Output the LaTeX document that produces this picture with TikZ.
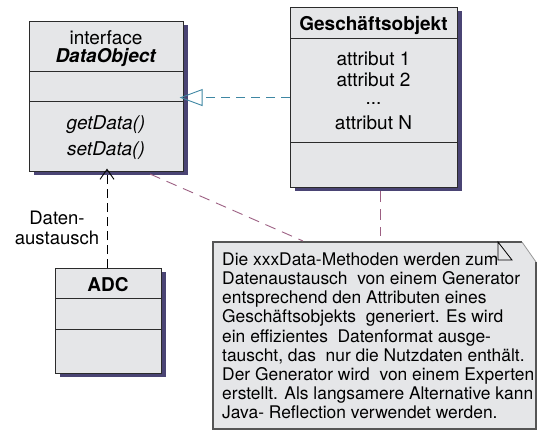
\documentclass[tikz,border=0pt]{standalone}
\usepackage{fontspec}
\setmainfont{TeX Gyre Heros}
\usetikzlibrary{arrows.meta}
\definecolor{boxfill}{HTML}{E5E6E8}
\definecolor{shadecol}{HTML}{4A4474}
\definecolor{boxline}{HTML}{2B2B2B}
\definecolor{noteline}{HTML}{555555}
\definecolor{realcol}{HTML}{3F87A3}
\definecolor{anchorcol}{HTML}{9C5F82}
\tikzset{
  classbox/.style={draw=boxline, line width=1.1pt, fill=boxfill, inner sep=0pt,
    anchor=north west},
  boxshade/.style={fill=shadecol, draw=none},
  divider/.style={draw=boxline, line width=0.9pt},
  boxtext/.style={font=\fontsize{19}{21}\selectfont, anchor=base, inner sep=0pt},
  notetext/.style={font=\fontsize{17.4}{19.2}\selectfont, align=left, anchor=north west, inner sep=0pt},
  realize/.style={draw=realcol, line width=0.9pt, dash pattern=on 9pt off 6pt,
    -{Triangle[open, length=23pt, width=17pt, line width=0.9pt]}},
  depend/.style={draw=black, line width=0.9pt, dash pattern=on 9pt off 5pt,
    -{Straight Barb[length=10pt, width=14pt, line width=0.9pt]}},
  notelink/.style={draw=anchorcol, line width=0.9pt, dash pattern=on 11pt off 7pt}
}
\begin{document}
\begin{tikzpicture}[x=1pt, y=-1pt]
\useasboundingbox (0,0) rectangle (538,432);

% offset shadows, drawn first so that the boxes cover them
\fill[boxshade] (33.5,25) rectangle (188,175);
\fill[boxshade] (294.5,11) rectangle (461.5,191);
\fill[boxshade] (59.5,272) rectangle (165.5,377);

% interface DataObject
\node[classbox, minimum width=154pt, minimum height=150pt] (do) at (29,21) {};
\draw[divider] (29,71) -- (183,71);
\draw[divider] (29,101) -- (183,101);
\node[boxtext] (doStereo) at (106,44) {interface};
\node[boxtext] (doName) at (106,62) {\textbf{\textit{DataObject}}};
\node[boxtext] (doGet) at (106,129.5) {\textit{getData()}};
\node[boxtext] (doSet) at (106,155) {\textit{setData()}};

% class Geschäftsobjekt
\node[classbox, minimum width=167pt, minimum height=180pt] (go) at (290,7) {};
\draw[divider] (290,38) -- (457,38);
\draw[divider] (290,142) -- (457,142);
\node[boxtext] (goName) at (373.5,30.7) {\textbf{Geschäftsobjekt}};
\node[boxtext] (goA1) at (373.5,65) {attribut 1};
\node[boxtext] (goA2) at (373.5,86) {attribut 2};
\node[boxtext] (goDots) at (373.5,104) {...};
\node[boxtext] (goAN) at (373.5,129) {attribut N};

% class ADC
\node[classbox, minimum width=106pt, minimum height=105pt] (adc) at (55,268) {};
\draw[divider] (55,298) -- (161,298);
\draw[divider] (55,329) -- (161,329);
\node[boxtext] (adcName) at (108,291) {\textbf{ADC}};

% label of the dependency
\node[boxtext, font=\fontsize{18.5}{19.5}\selectfont, align=center, anchor=north] (xchg) at (57,211)
  {Daten-\\austausch};

% note with folded corner
\coordinate (noteNW) at (213,242);
\coordinate (noteFold) at (522,242);
\coordinate (noteEdge) at (536,262);
\coordinate (noteSE) at (536,429);
\coordinate (noteSW) at (213,429);
\fill[boxfill] (noteNW) -- (noteFold) -- (noteEdge) -- (noteSE) -- (noteSW) -- cycle;
\draw[noteline, line width=1.1pt] (noteFold) -- (noteNW) -- (noteSW) -- (noteSE) -- (noteEdge);
\draw[noteline!60, line width=0.8pt] (noteFold) -- (noteEdge);
\draw[black, line width=0.8pt] (498,242) -- (498,260) -- (512,260) -- cycle;
\node[notetext] (noteText) at (222,252.5) {%
Die xxxData-Methoden werden zum\\
Datenaustausch\ \ von einem Generator\\
entsprechend den Attributen eines\\
Geschäftsobjekts\ \ generiert. Es wird\\
ein effizientes\ \ Datenformat ausge-\\
tauscht, das\ \ nur die Nutzdaten enthält.\\
Der Generator wird\ \ von einem Experten\\
erstellt. Als langsamere Alternative kann\\
Java- Reflection verwendet werden.};

% connectors
\draw[realize, shorten >=-4.5pt] (go.west) -- (go.west -| do.east);
\draw[depend, shorten >=-3.5pt] (adc.north -| 107,0) -- (do.south -| 107,0);
\coordinate (doLink) at (150,174);
\coordinate (noteLinkA) at (303,241);
\draw[notelink] (doLink) -- (noteLinkA);
\coordinate (goLink) at (380,191);
\coordinate (noteLinkB) at (380,236);
\draw[notelink] (goLink) -- (noteLinkB);
\end{tikzpicture}
\end{document}
